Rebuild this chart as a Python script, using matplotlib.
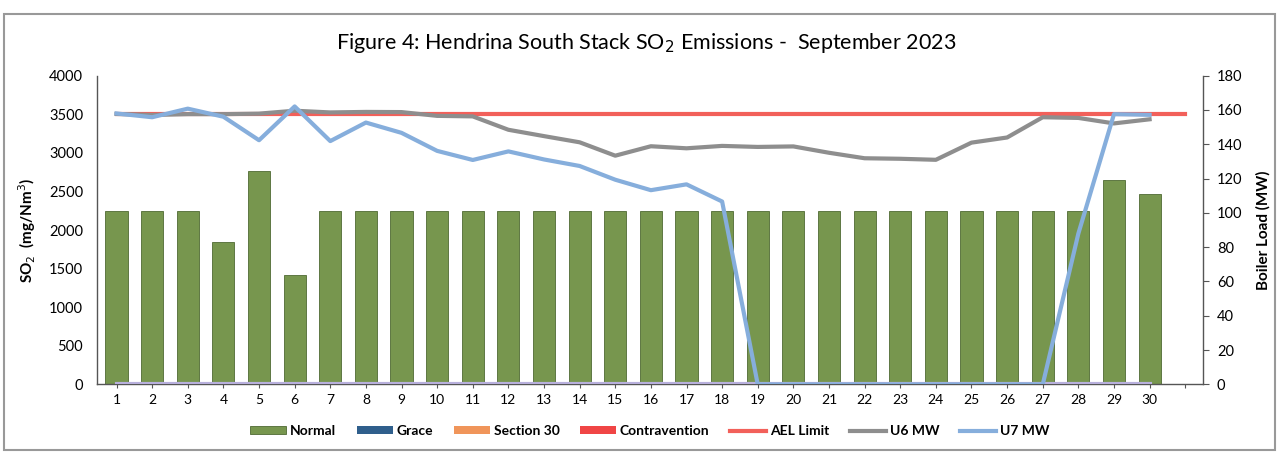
import matplotlib.pyplot as plt
import numpy as np
from matplotlib.patches import Rectangle

# Daily values (September 2023)
days = list(range(1, 32))
day_labels = [str(d) for d in range(1, 31)] + ['']

so2_normal = [2245, 2245, 2240, 1840, 2770, 1415, 2240, 2240, 2240, 2240, 2240, 2240, 2240, 2240, 2240,
              2240, 2240, 2240, 2240, 2240, 2240, 2240, 2240, 2240, 2240, 2240, 2240, 2240, 2650, 2470]
so2_grace = [0] * 30
so2_section30 = [0] * 30
so2_contravention = [0] * 30
ael_limit = [3500] * 31

u6_mw = [157.6, 157.0, 157.5, 157.5, 157.8, 159.5, 158.5, 158.8, 158.7, 156.5, 156.2, 148.4, 144.7, 141.1, 133.3,
         138.8, 137.6, 139.0, 138.4, 138.7, 135.0, 131.8, 131.5, 130.9, 140.9, 143.9, 155.7, 155.3, 152.1, 154.5]
u7_mw = [157.9, 155.7, 160.7, 156.0, 142.3, 162.0, 141.8, 152.6, 146.6, 136.1, 130.8, 135.8, 131.1, 127.3, 119.3,
         113.2, 116.6, 106.6, 0, 0, 0, 0, 0, 0, 0, 0, 0, 87.9, 157.5, 157.1]
zero_mw = [0] * 30

plt.rcParams['font.family'] = ['Lato', 'DejaVu Sans']

fig = plt.figure(figsize=(12.79, 4.55), dpi=100)
ax = fig.add_axes([0.0758, 0.155, 0.8648, 0.679])
ax2 = ax.twinx()

x = np.array(days[:30])
w = 0.62
b_norm = ax.bar(x, so2_normal, w, color='#77964E', edgecolor='#4F6A33', linewidth=0.6, label='Normal')
b_grace = ax.bar(x, so2_grace, w, bottom=so2_normal, color='#2F5F8C', label='Grace')
b_s30 = ax.bar(x, so2_section30, w, bottom=so2_normal, color='#F0955A', label='Section 30')
b_con = ax.bar(x, so2_contravention, w, bottom=so2_normal, color='#F04545', label='Contravention')
l_ael, = ax.plot(days, ael_limit, color='#F2605A', lw=3, label='AEL Limit')

ax2.plot(x, zero_mw, color='#B8B0DC', lw=3)
l_u6, = ax2.plot(x, u6_mw, color='#8E8E8E', lw=3, label='U6 MW')
l_u7, = ax2.plot(x, u7_mw, color='#86AEDC', lw=3, label='U7 MW')

ax.set_xlim(0.45, 31.5)
ax.set_ylim(0, 4000)
ax2.set_ylim(0, 180)
ax.set_yticks(np.arange(0, 4001, 500))
ax2.set_yticks(np.arange(0, 181, 20))
ax.set_xticks(days)
ax.set_xticklabels(day_labels)

ax.tick_params(axis='x', labelsize=10, length=3, color='#555555', pad=4)
ax.tick_params(axis='y', labelsize=10.5, length=0, pad=10)
ax2.tick_params(axis='y', labelsize=10.5, length=4, color='#555555', pad=6)

for a in (ax, ax2):
    a.spines['top'].set_visible(False)
    for s in ('left', 'right', 'bottom'):
        a.spines[s].set_color('#555555')
        a.spines[s].set_linewidth(1.0)
ax.spines['right'].set_visible(False)
ax2.spines['left'].set_visible(False)
ax2.spines['bottom'].set_visible(False)

ax.set_ylabel('SO$_2$  (mg/Nm$^3$)', fontsize=11, fontweight='bold', labelpad=8)
ax2.set_ylabel('Boiler Load (MW)', fontsize=11, fontweight='bold', labelpad=10)

fig.text(0.505, 0.905, 'Figure 4: Hendrina South Stack SO$_2$ Emissions -  September 2023',
         ha='center', va='center', fontsize=15.5)

handles = [b_norm, b_grace, b_s30, b_con, l_ael, l_u6, l_u7]
labels = ['Normal', 'Grace', 'Section 30', 'Contravention', 'AEL Limit', 'U6 MW', 'U7 MW']
fig.legend(handles, labels, loc='center', bbox_to_anchor=(0.508, 0.052), ncol=7, frameon=False,
           prop={'size': 10, 'weight': 'bold'}, handlelength=2.6, handleheight=0.5, columnspacing=1.5,
           handletextpad=0.25)

# outer frame of the figure
fig.patches.append(Rectangle((0.003, 0.012), 0.994, 0.958, transform=fig.transFigure, fill=False,
                             edgecolor='#999999', linewidth=1.5))

plt.savefig('out.png', dpi=100)
